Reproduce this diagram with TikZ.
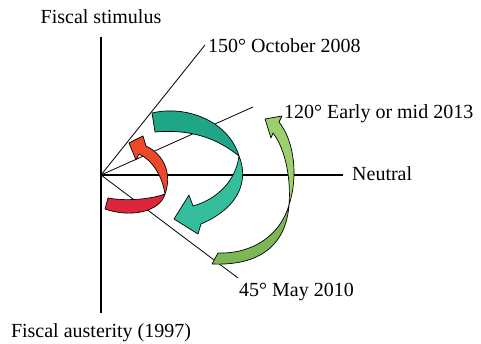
\documentclass[tikz,border=0pt]{standalone}
\usepackage{fontspec}
\setmainfont{Liberation Serif}
\usetikzlibrary{positioning}
\definecolor{tealdark}{RGB}{30,166,134}
\definecolor{teallight}{RGB}{52,190,155}
\definecolor{redup}{RGB}{238,72,42}
\definecolor{redlow}{RGB}{222,38,58}
\definecolor{greenup}{RGB}{157,207,109}
\definecolor{greenlow}{RGB}{125,183,85}

\begin{document}
\begin{tikzpicture}[
    x=1pt, y=-1pt,
    axis/.style={line width=2.2pt},
    ray/.style={line width=0.8pt},
    ribbon/.style={draw=black, line width=0.7pt, line join=round},
    lbl/.style={font=\fontsize{20}{24}\selectfont, inner sep=0pt}
]
    \useasboundingbox (0,0) rectangle (481,344);

    % axes and rays
    \coordinate (O) at (101,175);
    \coordinate (top) at (101,37);
    \coordinate (bottom) at (101,313);
    \coordinate (right) at (343,175);
    \coordinate (end150) at (205,45);
    \coordinate (end120) at (253,107);
    \coordinate (end45) at (238,278);

    \node[lbl] (stimulus) at (101,17) {Fiscal stimulus};
    \node[lbl, anchor=base] (austerity) at (101,337) {Fiscal austerity (1997)};
    \node[lbl, anchor=base west] (neutral) at (352,181) {Neutral};
    \node[lbl, anchor=base west] (oct) at (208,53) {150° October 2008};
    \node[lbl, anchor=base west] (early) at (284,119) {120° Early or mid 2013};
    \node[lbl, anchor=base west] (may) at (239,296) {45° May 2010};

    \draw[axis] (top) -- (bottom);
    \draw[axis] (O) -- (right);
    \draw[ray] (O) -- (end150);
    \draw[ray] (O) -- (end120);
    \draw[ray] (O) -- (end45);

    % teal arrow
    \path[ribbon, fill=tealdark] (152,113) .. controls (185,105) and (228,120) .. (239,156)
        .. controls (225,145) and (200,128) .. (155,132) -- cycle;
    \path[ribbon, fill=teallight] (239,156) .. controls (247,175) and (245,205) .. (201,224)
        -- (198,234) -- (174,219) -- (189,195) -- (193,206)
        .. controls (218,199) and (236,180) .. (239,156) -- cycle;

    % red arrow
    \path[ribbon, fill=redlow] (165,194) .. controls (160,212) and (130,218) .. (105,209)
        -- (108,198) .. controls (130,202) and (155,198) .. (165,194) -- cycle;
    \path[ribbon, fill=redup] (165,194) .. controls (172,175) and (165,155) .. (146,146)
        -- (143,136) -- (129,143) -- (136,160) -- (139,154)
        .. controls (152,160) and (162,175) .. (165,194) -- cycle;

    % green arrow
    \path[ribbon, fill=greenlow] (289,205) .. controls (286,245) and (260,266) .. (212,264)
        -- (218,253) .. controls (252,254) and (280,236) .. (289,205) -- cycle;
    \path[ribbon, fill=greenup] (289,205) .. controls (298,178) and (295,142) .. (279,122)
        -- (282,116) -- (265,119) -- (271,138) -- (273,133)
        .. controls (286,150) and (291,180) .. (289,205) -- cycle;

\end{tikzpicture}
\end{document}
